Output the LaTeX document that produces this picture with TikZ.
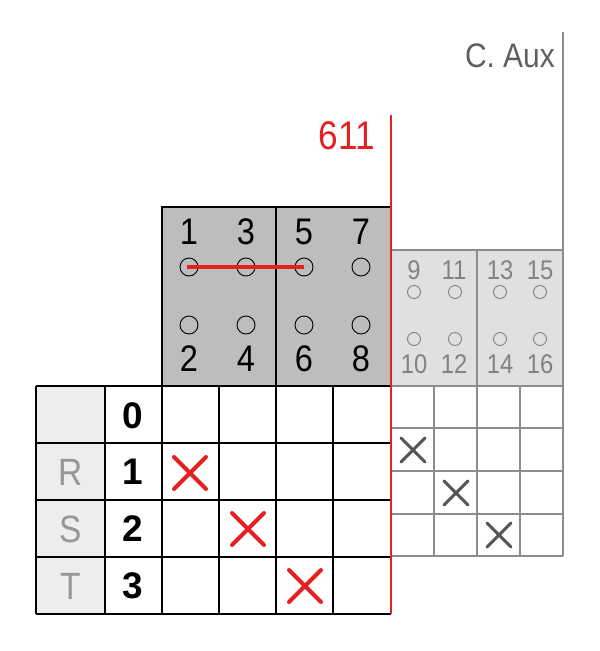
\documentclass[tikz,border=0pt]{standalone}
\usepackage{fontspec}
\setmainfont{Liberation Sans}[FakeStretch=0.88]
\newfontfamily\numfont{Liberation Sans}
\usetikzlibrary{shapes.misc}
\definecolor{redc}{RGB}{228,32,32}
\definecolor{darkfill}{RGB}{189,189,189}
\definecolor{lightfill}{RGB}{224,224,224}
\definecolor{labfill}{RGB}{237,237,237}
\definecolor{gridgray}{RGB}{140,140,140}
\definecolor{lightnum}{RGB}{130,130,130}
\definecolor{labtext}{RGB}{150,150,150}
\definecolor{auxtext}{RGB}{95,95,95}
\definecolor{xgray}{RGB}{85,85,85}
\tikzset{
  blackgrid/.style={line width=1.6, black},
  graygrid/.style={line width=2, gridgray},
  pinbig/.style={circle, draw=black, line width=0.9, minimum size=18, inner sep=0},
  pinsmall/.style={circle, draw=lightnum, line width=0.9, minimum size=13, inner sep=0},
  bignum/.style={inner sep=0, font=\fontsize{37}{37}\selectfont},
  smallnum/.style={inner sep=0, text=lightnum, font=\fontsize{27}{27}\selectfont},
  rownum/.style={inner sep=0, font=\fontsize{37}{37}\numfont\bfseries},
  rowlab/.style={inner sep=0, text=labtext, font=\fontsize{38}{38}\selectfont},
  redx/.style={cross out, draw=redc, line width=4, line cap=round, minimum size=28, inner sep=0},
  grayx/.style={cross out, draw=xgray, line width=3, line cap=round, minimum size=21, inner sep=0},
}
\begin{document}
\begin{tikzpicture}[x=1pt,y=-1pt]
\useasboundingbox (0,0) rectangle (600,651);
% fills
\fill[labfill] (36,386) rectangle (105,614);
\fill[darkfill] (162,207) rectangle (391,386);
\fill[lightfill] (391,250) rectangle (563,386);
% dark block
\draw[blackgrid] (162,207) rectangle (391,386);
\draw[blackgrid] (276,207) -- (276,386);
% light block
\draw[graygrid] (391,250) -- (563,250);
\draw[graygrid] (477,250) -- (477,386);
% right grid
\foreach \x in {434,477,520,563} \draw[graygrid] (\x,386) -- (\x,556);
\foreach \y in {386,428,471,514,556} \draw[graygrid] (391,\y) -- (563,\y);
% aux line
\draw[graygrid] (563,32) -- (563,556);
% left grid
\foreach \x in {36,105,162,219,276,333} \draw[blackgrid] (\x,386) -- (\x,614);
\foreach \y in {386,443,500,557,614} \draw[blackgrid] (36,\y) -- (391,\y);
% red line
\draw[redc, line width=2] (391,115) -- (391,614);
% header labels
\node[anchor=east, inner sep=0, text=redc, font=\fontsize{40}{40}\selectfont] (l611) at (375,136) {611};
\node[anchor=east, inner sep=0, text=auxtext, font=\fontsize{34}{34}\selectfont] (laux) at (555,56) {C. Aux};
% pins big
\node[pinbig] (c1) at (189,267) {};
\node[pinbig] (c3) at (246,267) {};
\node[pinbig] (c5) at (304,267) {};
\node[pinbig] (c7) at (361,267) {};
\node[pinbig] (c2) at (189,325) {};
\node[pinbig] (c4) at (246,325) {};
\node[pinbig] (c6) at (304,325) {};
\node[pinbig] (c8) at (361,325) {};
\node[bignum] (n1) at (189,232) {1};
\node[bignum] (n3) at (246,232) {3};
\node[bignum] (n5) at (304,232) {5};
\node[bignum] (n7) at (361,232) {7};
\node[bignum] (n2) at (189,359) {2};
\node[bignum] (n4) at (246,359) {4};
\node[bignum] (n6) at (304,359) {6};
\node[bignum] (n8) at (361,359) {8};
\draw[redc, line width=4] ([xshift=-2]c1.center) -- (c5.center);
% pins small
\node[pinsmall] (c9) at (414,292) {};
\node[pinsmall] (c11) at (455,292) {};
\node[pinsmall] (c13) at (500,292) {};
\node[pinsmall] (c15) at (540,292) {};
\node[pinsmall] (c10) at (414,339) {};
\node[pinsmall] (c12) at (455,339) {};
\node[pinsmall] (c14) at (500,339) {};
\node[pinsmall] (c16) at (540,339) {};
\node[smallnum] (n9) at (414,270) {9};
\node[smallnum] (n11) at (454,270) {11};
\node[smallnum] (n13) at (500,270) {13};
\node[smallnum] (n15) at (540,270) {15};
\node[smallnum] (n10) at (414,364) {10};
\node[smallnum] (n12) at (454,364) {12};
\node[smallnum] (n14) at (500,364) {14};
\node[smallnum] (n16) at (540,364) {16};
% row labels
\node[rownum] (r0) at (133,416) {0};
\node[rownum] (r1) at (133,472) {1};
\node[rownum] (r2) at (133,529) {2};
\node[rownum] (r3) at (133,586) {3};
\node[rowlab] (lr) at (71,472) {R};
\node[rowlab] (ls) at (71,529) {S};
\node[rowlab] (lt) at (71,586) {T};
% crosses
\node[redx] (x1) at (190,473) {};
\node[redx] (x2) at (248,529) {};
\node[redx] (x3) at (305,586) {};
\node[grayx] (g1) at (413,450) {};
\node[grayx] (g2) at (456,493) {};
\node[grayx] (g3) at (499,535) {};
\end{tikzpicture}
\end{document}
